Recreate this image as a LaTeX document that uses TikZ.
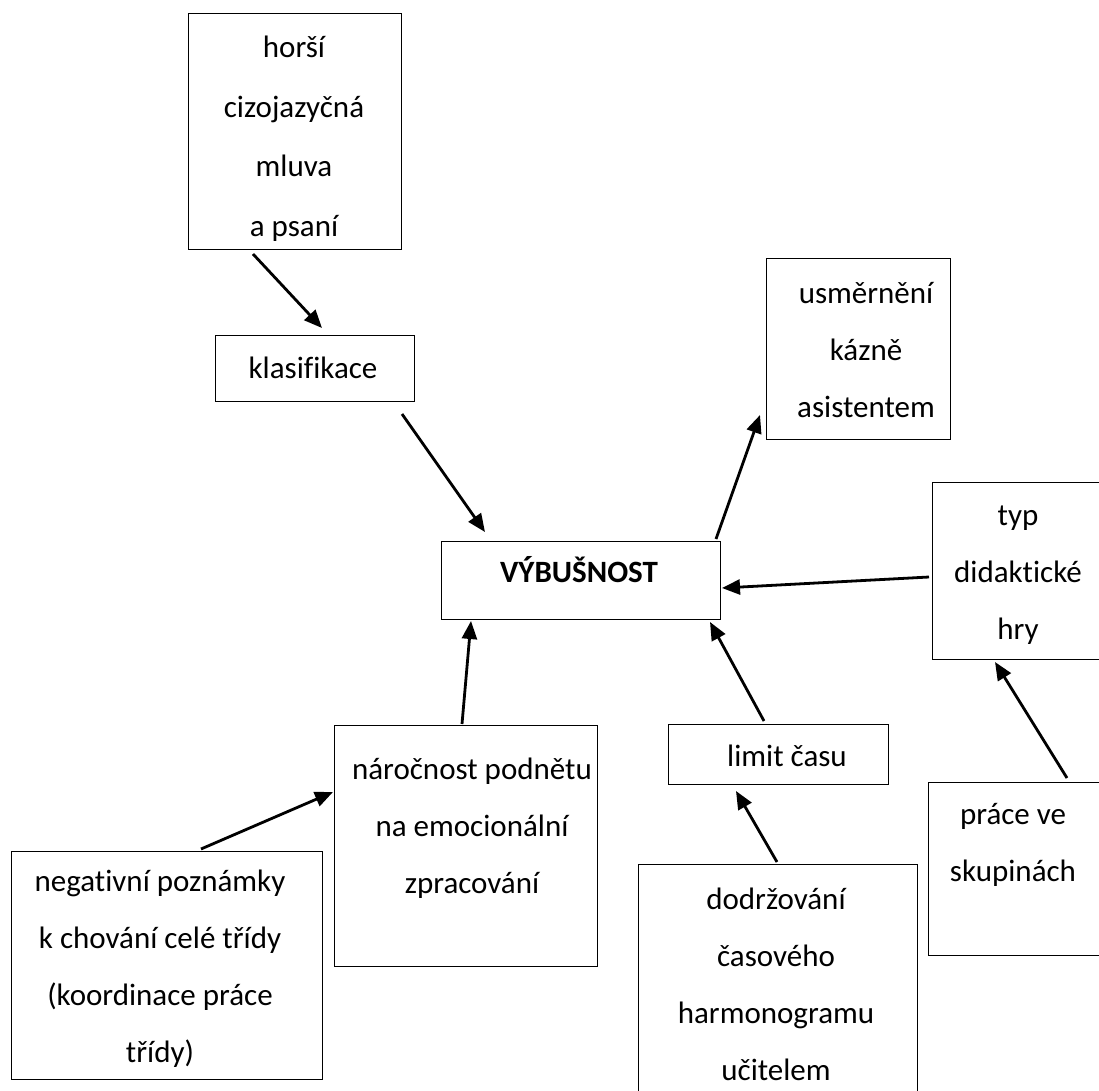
\documentclass[tikz,border=0pt]{standalone}
\usepackage{fontspec}
\setmainfont[Ligatures=NoCommon]{Carlito}
\usetikzlibrary{arrows.meta}
\begin{document}
\begin{tikzpicture}[x=1pt,y=-1pt,
  box/.style={draw, line width=1.3pt, inner sep=0pt, anchor=north west},
  lbl/.style={font=\fontsize{31}{57}\selectfont, align=center, anchor=base, inner sep=0pt},
  arr/.style={line width=2.8pt, -{Triangle[length=18pt,width=15pt]}}]
\useasboundingbox (0,0) rectangle (1099,1090);
\fill[white] (0,0) rectangle (1099,1090);

% boxes
\node[box, minimum width=213pt, minimum height=236pt] (hor) at (188,13) {};
\node[box, minimum width=199pt, minimum height=66pt] (kla) at (215,335) {};
\node[box, minimum width=184pt, minimum height=181pt] (usm) at (766,258) {};
\node[box, minimum width=279pt, minimum height=78pt] (vyb) at (441,541) {};
\node[box, minimum width=176pt, minimum height=177pt] (typ) at (932,482) {};
\node[box, minimum width=263pt, minimum height=241pt] (nar) at (334,725) {};
\node[box, minimum width=220pt, minimum height=60pt] (lim) at (668,724) {};
\node[box, minimum width=180pt, minimum height=173pt] (pra) at (928,782) {};
\node[box, minimum width=311pt, minimum height=228pt] (neg) at (11,851) {};
\node[box, minimum width=279pt, minimum height=240pt] (dod) at (638,864) {};

% labels (anchored at the baseline of the last line)
\node[lbl, font=\fontsize{31}{59.5}\selectfont] (hor-t) at (294,236) {horší\\cizojazyčná\\mluva\\a psaní};
\node[lbl] (kla-t) at (313,378) {klasifikace};
\node[lbl] (usm-t) at (866,417) {usměrnění\\kázně\\asistentem};
\node[lbl, font=\fontsize{31}{57}\selectfont\bfseries] (vyb-t) at (579,582) {VÝBUŠNOST};
\node[lbl] (typ-t) at (1018,639) {typ\\didaktické\\hry};
\node[lbl] (nar-t) at (472,893) {náročnost podnětu\\na emocionální\\zpracování};
\node[lbl] (lim-t) at (787,766) {limit času};
\node[lbl] (pra-t) at (1013,881) {práce ve\\skupinách};
\node[lbl] (neg-t) at (160,1062) {negativní poznámky\\k chování celé třídy\\(koordinace práce\\třídy)};
\node[lbl] (dod-t) at (776,1080) {dodržování\\časového\\harmonogramu\\učitelem};

% connector ends
\coordinate (hor-o) at (253,254);  \coordinate (kla-i) at (322,328);
\coordinate (kla-o) at (402,414);  \coordinate (vyb-i1) at (485,532);
\coordinate (vyb-o) at (716,539);  \coordinate (usm-i) at (760,415);
\coordinate (typ-o) at (929,577);  \coordinate (vyb-i2) at (722,588);
\coordinate (nar-o) at (462,724);  \coordinate (vyb-i3) at (471,621);
\coordinate (lim-o) at (764,721);  \coordinate (vyb-i4) at (710,622);
\coordinate (neg-o) at (201,849);  \coordinate (nar-i) at (333,792);
\coordinate (dod-o) at (777,862);  \coordinate (lim-i) at (736,791);
\coordinate (pra-o) at (1067,778); \coordinate (typ-i) at (995,662);

% connectors
\draw[arr] (hor-o) -- (kla-i);
\draw[arr] (kla-o) -- (vyb-i1);
\draw[arr] (vyb-o) -- (usm-i);
\draw[arr] (typ-o) -- (vyb-i2);
\draw[arr] (nar-o) -- (vyb-i3);
\draw[arr] (lim-o) -- (vyb-i4);
\draw[arr] (neg-o) -- (nar-i);
\draw[arr] (dod-o) -- (lim-i);
\draw[arr] (pra-o) -- (typ-i);
\end{tikzpicture}
\end{document}
